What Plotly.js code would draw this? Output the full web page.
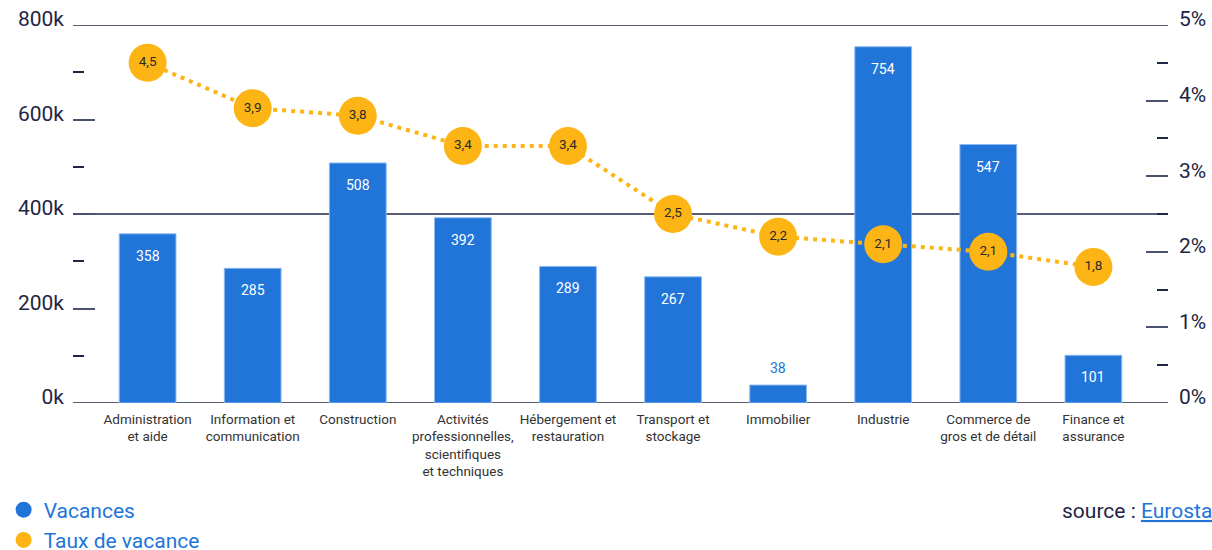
<!DOCTYPE html>
<html>
<head>
<meta charset="utf-8">
<script src="https://cdn.plot.ly/plotly-3.0.1.min.js"></script>
<style>html,body{margin:0;padding:0;background:#fff;}#chart{width:1212px;height:550px;}</style>
</head>
<body>
<div id="chart"></div>
<script>
const categories = [
  'Administration<br>et aide',
  'Information et<br>communication',
  'Construction',
  'Activités<br>professionnelles,<br>scientifiques<br>et techniques',
  'Hébergement et<br>restauration',
  'Transport et<br>stockage',
  'Immobilier',
  'Industrie',
  'Commerce de<br>gros et de détail',
  'Finance et<br>assurance'
];
const vacances = [358, 285, 508, 392, 289, 267, 38, 754, 547, 101];
const tauxValues = [4.5, 3.9, 3.8, 3.4, 3.4, 2.5, 2.2, 2.1, 2.0, 1.8];
const tauxLabels = ['4,5', '3,9', '3,8', '3,4', '3,4', '2,5', '2,2', '2,1', '2,1', '1,8'];
const leftTickVals = [0, 200, 400, 600, 800];
const leftTickText = ['0k', '200k', '400k', '600k', '800k'];
const rightTickVals = [0, 1, 2, 3, 4, 5];
const rightTickText = ['0%', '1%', '2%', '3%', '4%', '5%'];
const gridLevels = [0, 400, 800];
const seriesNames = ['Vacances', 'Taux de vacance'];

const BLUE = '#2175d9';
const ORANGE = '#fdb515';
const NAVY = '#1e2645';

const traces = [
  {
    type: 'bar', x: categories, y: vacances, yaxis: 'y',
    marker: {color: BLUE, line: {color: '#8bb8f0', width: 1}},
    width: 0.54, showlegend: false, hoverinfo: 'x+y', cliponaxis: false
  },
  {
    type: 'scatter', mode: 'lines+markers+text', x: categories, y: tauxValues, yaxis: 'y2',
    text: tauxLabels, textposition: 'middle center',
    textfont: {family: 'Roboto, sans-serif', size: 13.5, color: '#2a2a2a'},
    line: {color: ORANGE, width: 4, dash: '4px,5px'},
    marker: {color: ORANGE, size: 38, line: {width: 0}},
    showlegend: false, cliponaxis: false
  },
  {
    type: 'scatter', mode: 'markers', x: [null], y: [null], name: seriesNames[0],
    marker: {color: BLUE, size: 22, symbol: 'circle'}, showlegend: true
  },
  {
    type: 'scatter', mode: 'markers', x: [null], y: [null], name: seriesNames[1], yaxis: 'y2',
    marker: {color: ORANGE, size: 22, symbol: 'circle'}, showlegend: true
  }
];

const shapes = gridLevels.map(v => ({
  type: 'line', xref: 'paper', x0: 0, x1: 1, yref: 'y', y0: v, y1: v,
  line: {color: NAVY, width: 1.5}, layer: 'below'
}));

const annotations = vacances.map((v, i) => {
  const inside = v > 60;
  return {
    x: categories[i], y: v, xref: 'x', yref: 'y',
    text: String(v), showarrow: false,
    yshift: inside ? -22 : 17,
    font: {family: 'Roboto, sans-serif', size: 14, color: inside ? '#ffffff' : BLUE}
  };
});
annotations.push({
  xref: 'paper', yref: 'paper', x: 0.901, y: -0.2857, xanchor: 'left', yanchor: 'middle',
  showarrow: false,
  text: 'source : <span style="color:' + BLUE + ';text-decoration:underline">Eurostat</span>',
  font: {family: 'Roboto, sans-serif', size: 21, color: NAVY}
});

const layout = {
  width: 1212, height: 550,
  margin: {l: 73, r: 44, t: 25, b: 147, autoexpand: false},
  paper_bgcolor: '#ffffff', plot_bgcolor: '#ffffff',
  font: {family: 'Roboto, sans-serif', color: NAVY},
  bargap: 0.46,
  xaxis: {
    type: 'category', range: [-0.71, 9.71], tickangle: 0,
    showgrid: false, zeroline: false, showline: false, ticks: '',
    tickfont: {family: 'Roboto, sans-serif', size: 13.5, color: '#333333'},
    ticklabelstandoff: 6, fixedrange: true
  },
  yaxis: {
    range: [0, 800], tickvals: leftTickVals, ticktext: leftTickText,
    showgrid: false, zeroline: false, showline: false,
    ticks: 'inside', ticklen: 22, tickwidth: 1.5, tickcolor: '#4a5270',
    minor: {ticks: 'inside', ticklen: 11, tickwidth: 1.5, tickcolor: NAVY, dtick: 100, showgrid: false},
    tickfont: {family: 'Roboto, sans-serif', size: 21, color: NAVY},
    ticklabelshift: -6, ticklabelstandoff: 8, fixedrange: true
  },
  yaxis2: {
    overlaying: 'y', side: 'right',
    range: [0, 5], tickvals: rightTickVals, ticktext: rightTickText,
    showgrid: false, zeroline: false, showline: false,
    ticks: 'inside', ticklen: 22, tickwidth: 1.5, tickcolor: '#4a5270',
    minor: {ticks: 'inside', ticklen: 11, tickwidth: 1.5, tickcolor: NAVY, dtick: 0.5, showgrid: false},
    tickfont: {family: 'Roboto, sans-serif', size: 21, color: NAVY},
    ticklabelshift: -6, ticklabelstandoff: 10, fixedrange: true
  },
  showlegend: true,
  legend: {
    orientation: 'v', xref: 'container', yref: 'container',
    x: 0.003, xanchor: 'left', y: 0.11, yanchor: 'top',
    font: {family: 'Roboto, sans-serif', size: 21, color: BLUE},
    bgcolor: 'rgba(0,0,0,0)', tracegroupgap: 0, itemclick: false, itemdoubleclick: false
  },
  shapes: shapes,
  annotations: annotations
};

Plotly.newPlot('chart', traces, layout, {displayModeBar: false, staticPlot: false});
</script>
</body>
</html>
